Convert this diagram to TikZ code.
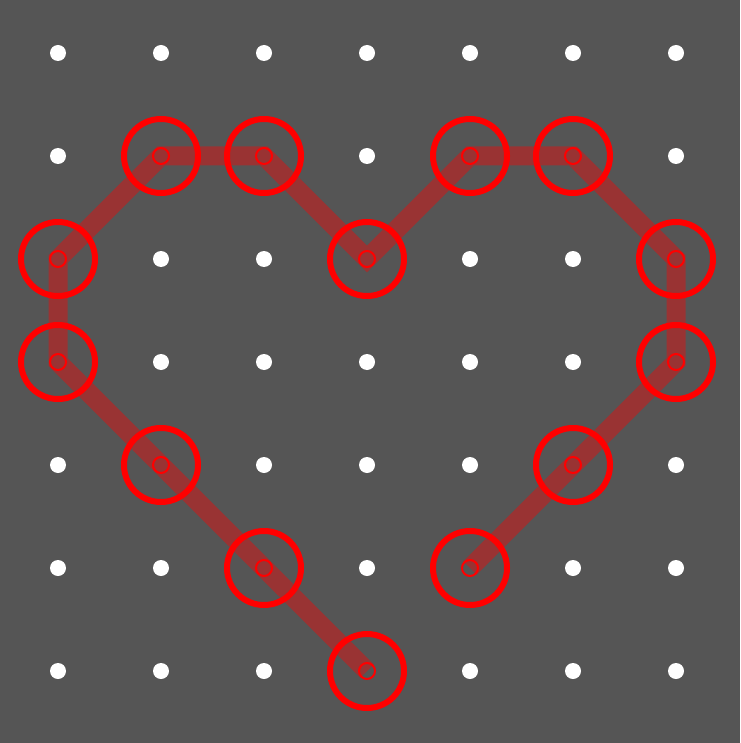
\documentclass[tikz,border=0pt]{standalone}
\begin{document}
\begin{tikzpicture}[x=1pt,y=-1pt,
  griddot/.style={circle,fill=white,inner sep=0pt,minimum size=16pt},
  trail/.style={draw=red,draw opacity=0.4,line width=19pt,line join=miter,line cap=butt},
  bigring/.style={draw=red,line width=6pt},
  smallring/.style={draw=red,line width=2pt}]
\fill[fill={rgb,255:red,85;green,85;blue,85}] (0,0) rectangle (740,743);
\useasboundingbox (0,0) rectangle (740,743);
% path points (column, row)
\foreach \n/\c/\r in {p1/3/6,p2/2/5,p3/1/4,p4/0/3,p5/0/2,p6/1/1,p7/2/1,p8/3/2,p9/4/1,p10/5/1,p11/6/2,p12/6/3,p13/5/4,p14/4/5}{
  \coordinate (\n) at ({58+103*\c},{53+103*\r});
}
% grid dots not on the path
\foreach \c/\r in {0/0,1/0,2/0,3/0,4/0,5/0,6/0,
  0/1,3/1,6/1,
  1/2,2/2,4/2,5/2,
  1/3,2/3,3/3,4/3,5/3,
  0/4,2/4,3/4,4/4,6/4,
  0/5,1/5,3/5,5/5,6/5,
  0/6,1/6,2/6,4/6,5/6,6/6}{
  \node[griddot] (d\c\r) at ({58+103*\c},{53+103*\r}) {};
}
\draw[trail] (p1) -- (p2) -- (p3) -- (p4) -- (p5) -- (p6) -- (p7) -- (p8) -- (p9) -- (p10) -- (p11) -- (p12) -- (p13) -- (p14);
\foreach \n in {p1,p2,p3,p4,p5,p6,p7,p8,p9,p10,p11,p12,p13,p14}{
  \draw[bigring] (\n) circle (37);
  \draw[smallring] (\n) circle (8);
}
\end{tikzpicture}
\end{document}
